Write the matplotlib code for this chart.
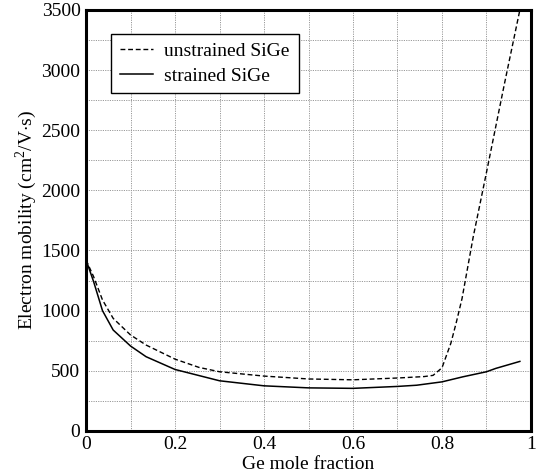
import matplotlib
matplotlib.use("Agg")
import matplotlib.pyplot as plt
from matplotlib import font_manager
from matplotlib.ticker import MultipleLocator

# Ge mole fraction vs electron mobility (cm^2/V.s)
x_unstrained = [0.0, 0.017, 0.037, 0.061, 0.1, 0.135, 0.2, 0.254, 0.3, 0.4,
                0.5, 0.6, 0.7, 0.76, 0.78, 0.8, 0.82, 0.832, 0.845, 0.87,
                0.9, 0.94, 0.975]
mu_unstrained = [1422, 1283, 1089, 936, 798, 714, 597, 528, 492, 456,
                 432, 425, 440, 452, 462, 525, 730, 900, 1100, 1610,
                 2150, 2880, 3500]

x_strained = [0.0, 0.017, 0.037, 0.061, 0.1, 0.135, 0.2, 0.3, 0.4, 0.5,
              0.6, 0.7, 0.743, 0.8, 0.847, 0.9, 0.921, 0.975]
mu_strained = [1422, 1242, 1000, 839, 706, 617, 511, 417, 375, 358,
               354, 370, 380, 408, 450, 492, 520, 578]

x_ticks = [0, 0.2, 0.4, 0.6, 0.8, 1]
x_ticklabels = ["0", "0.2", "0.4", "0.6", "0.8", "1"]
y_ticks = [0, 500, 1000, 1500, 2000, 2500, 3000, 3500]

names = {f.name for f in font_manager.fontManager.ttflist}
serif = 'Liberation Serif' if 'Liberation Serif' in names else 'DejaVu Serif'

plt.rcParams['font.family'] = serif
plt.rcParams['font.size'] = 14
plt.rcParams['mathtext.fontset'] = 'custom'
plt.rcParams['mathtext.rm'] = serif

fig = plt.figure(figsize=(5.41, 4.72), dpi=100)
ax = fig.add_axes([0.159, 0.087, 0.8225, 0.892])

ax.plot(x_unstrained, mu_unstrained, color='black', linewidth=1.0,
        dashes=(3.5, 2.0), label='unstrained SiGe')
ax.plot(x_strained, mu_strained, color='black', linewidth=1.1,
        label='strained SiGe')

ax.set_xlim(0, 1)
ax.set_ylim(0, 3500)
ax.set_xticks(x_ticks)
ax.set_xticklabels(x_ticklabels)
ax.set_yticks(y_ticks)
ax.xaxis.set_minor_locator(MultipleLocator(0.1))
ax.yaxis.set_minor_locator(MultipleLocator(250))
ax.tick_params(which='both', length=0)
ax.tick_params(axis='x', pad=4)
ax.tick_params(axis='y', pad=4)

ax.grid(which='both', color='#999999', linestyle=(0, (1.2, 1.2)), linewidth=0.7)
ax.set_axisbelow(True)

for sp in ax.spines.values():
    sp.set_linewidth(2.2)

ax.set_xlabel('Ge mole fraction', labelpad=1.5)
ax.set_ylabel('Electron mobility (cm$^\\mathrm{2}$/V$\\cdot$s)', labelpad=2)

leg = ax.legend(loc='upper left', bbox_to_anchor=(0.056, 0.943),
                borderaxespad=0, fancybox=False, framealpha=1,
                edgecolor='black', handlelength=1.7, handletextpad=0.6,
                borderpad=0.45, labelspacing=0.35)
leg.get_frame().set_linewidth(1.0)

fig.savefig('out.png', dpi=100)
